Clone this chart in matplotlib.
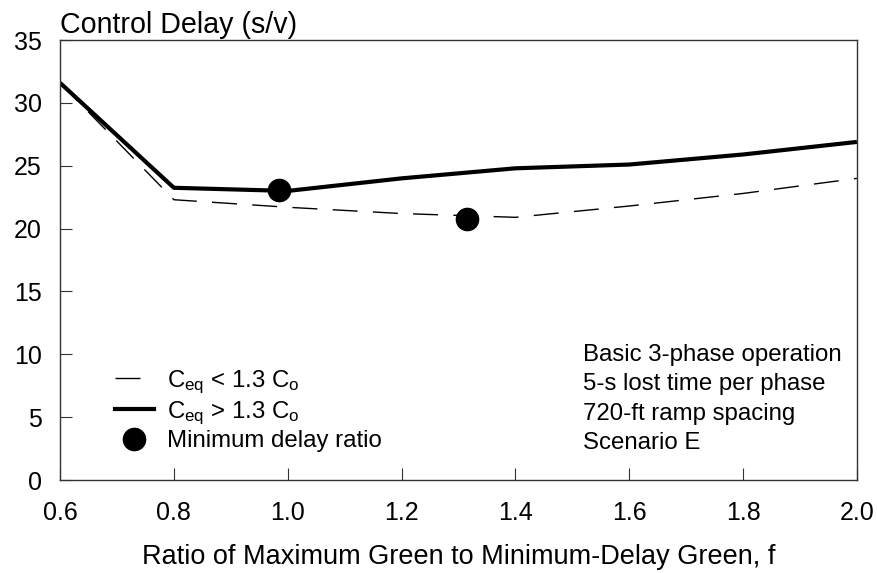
import matplotlib
matplotlib.use("Agg")
import matplotlib.pyplot as plt
from matplotlib.lines import Line2D

plt.rcParams['font.family'] = ['Liberation Sans', 'DejaVu Sans']
plt.rcParams['mathtext.fontset'] = 'custom'
plt.rcParams['mathtext.rm'] = 'Liberation Sans'
plt.rcParams['mathtext.it'] = 'Liberation Sans'

# 数据
f_ratio = [0.6, 0.8, 1.0, 1.2, 1.4, 1.6, 1.8, 2.0]
delay_low = [31.6, 22.3, 21.7, 21.2, 20.9, 21.8, 22.8, 24.0]    # Ceq < 1.3 Co
delay_high = [31.6, 23.25, 23.0, 24.0, 24.8, 25.1, 25.9, 26.9]  # Ceq > 1.3 Co
min_f = [0.985, 1.315]
min_delay = [23.05, 20.8]

x_ticks = [0.6, 0.8, 1.0, 1.2, 1.4, 1.6, 1.8, 2.0]
y_ticks = [0, 5, 10, 15, 20, 25, 30, 35]

notes = ["Basic 3-phase operation", "5-s lost time per phase",
         "720-ft ramp spacing", "Scenario E"]

fig = plt.figure(figsize=(8.78, 5.73), dpi=100)
ax = fig.add_axes([0.0684, 0.1623, 0.976 - 0.0684, 0.930 - 0.1623])

ax.plot(f_ratio, delay_low, color='black', lw=1.0, dashes=(18, 11))
ax.plot(f_ratio, delay_high, color='black', lw=3.0, solid_capstyle='butt')
ax.plot(min_f, min_delay, 'o', color='black', markersize=16, zorder=5)

ax.set_xlim(0.6, 2.0)
ax.set_ylim(0, 35)
ax.set_xticks(x_ticks)
ax.set_xticklabels([f"{v:.1f}" for v in x_ticks])
ax.set_yticks(y_ticks)
ax.tick_params(direction='in', length=8.5, width=0.8, labelsize=18,
               color='#333333')
ax.tick_params(axis='x', pad=15)
ax.tick_params(axis='y', pad=13)
for s in ax.spines.values():
    s.set_color('#333333')
    s.set_linewidth(1.0)

ax.set_xlabel("Ratio of Maximum Green to Minimum-Delay Green, f",
              fontsize=19.5, labelpad=14)
ax.text(0.0, 1.003, "Control Delay (s/v)", transform=ax.transAxes,
        ha='left', va='bottom', fontsize=20.6)

# 图例
handles = [
    Line2D([], [], color='black', lw=1.0, dashes=(18, 11)),
    Line2D([], [], color='black', lw=3.0),
    Line2D([], [], marker='o', ls='none', color='black', markersize=16),
]
labels = [r"C$_{\rm eq}$ < 1.3 C$_{\rm o}$",
          r"C$_{\rm eq}$ > 1.3 C$_{\rm o}$",
          "Minimum delay ratio"]
ax.legend(handles, labels, loc='lower left', bbox_to_anchor=(0.054, 0.036),
          frameon=False, fontsize=17.3, handlelength=1.6, handletextpad=0.58,
          labelspacing=0.15, borderpad=0)

ax.text(0.656, 0.309, "\n".join(notes), transform=ax.transAxes,
        ha='left', va='top', fontsize=17.3, linespacing=1.43)

fig.savefig("out.png", dpi=100)
